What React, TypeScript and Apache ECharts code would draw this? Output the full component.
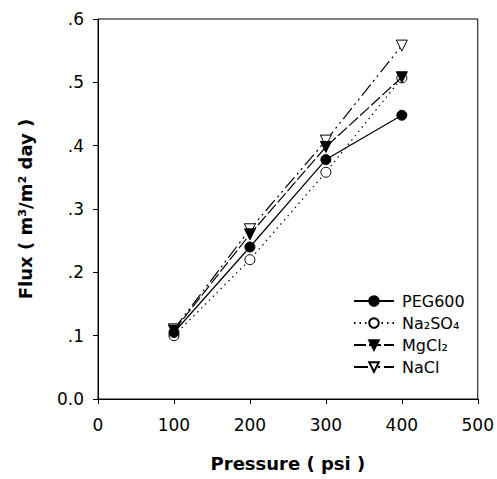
import React, { useEffect, useRef } from "react";
import * as echarts from "echarts";

const pressures = [100, 200, 300, 400];
const seriesNames = ["PEG600", "Na₂SO₄", "MgCl₂", "NaCl"];
const peg600 = [0.105, 0.24, 0.378, 0.448];
const na2so4 = [0.1, 0.22, 0.358, 0.507];
const mgcl2 = [0.108, 0.26, 0.398, 0.508];
const nacl = [0.11, 0.268, 0.408, 0.558];
const xTitle = "Pressure ( psi )";
const yTitle = "Flux ( m³/m² day )";

const FONT = "'DejaVu Sans', 'Liberation Sans', Arial, sans-serif";

function pairs(vals: number[]) {
  return pressures.map((p, i) => [p, vals[i]]);
}

export default function App() {
  const ref = useRef<HTMLDivElement>(null);
  useEffect(() => {
    if (!ref.current) return;
    const chart = echarts.init(ref.current, undefined, { renderer: "svg" });
    const mk = (
      name: string,
      vals: number[],
      symbol: string,
      rotate: number,
      dash: any,
      filled: boolean,
      z: number
    ) => ({
      name,
      type: "line",
      data: pairs(vals),
      symbol,
      showSymbol: true,
      symbolSize: rotate ? 11 : 10,
      symbolRotate: rotate,
      z,
      lineStyle: { color: "#000", width: 1.2, type: dash },
      itemStyle: {
        color: filled ? "#000" : "#fff",
        borderColor: "#000",
        borderWidth: 1,
      },
      emphasis: { disabled: true },
    });
    chart.setOption({
      animation: false,
      backgroundColor: "#fff",
      grid: {
        left: 98,
        right: 17,
        top: 19,
        bottom: 80,
        show: true,
        borderColor: "#000",
        borderWidth: 1,
        backgroundColor: "transparent",
      },
      legend: {
        data: seriesNames,
        orient: "vertical",
        left: 353,
        top: 293,
        padding: 0,
        itemWidth: 40,
        itemHeight: 12,
        itemGap: 6,
        textStyle: {
          fontFamily: FONT,
          fontSize: 16,
          color: "#000",
          lineHeight: 16,
          padding: [0, 0, 0, 3],
        },
      },
      xAxis: {
        type: "value",
        min: 0,
        max: 500,
        interval: 100,
        name: xTitle,
        nameLocation: "middle",
        nameGap: 55,
        nameTextStyle: {
          fontFamily: FONT,
          fontSize: 18,
          fontWeight: "bold",
          color: "#000",
        },
        axisLine: { show: true, lineStyle: { color: "#000", width: 1 } },
        axisTick: { show: true, inside: false, length: 5, lineStyle: { color: "#000" } },
        axisLabel: { fontFamily: FONT, fontSize: 17, color: "#000", margin: 17 },
        splitLine: { show: false },
      },
      yAxis: {
        type: "value",
        min: 0,
        max: 0.6,
        interval: 0.1,
        name: yTitle,
        nameLocation: "middle",
        nameGap: 64,
        nameTextStyle: {
          fontFamily: FONT,
          fontSize: 18,
          fontWeight: "bold",
          color: "#000",
        },
        axisLine: { show: true, lineStyle: { color: "#000", width: 1 } },
        axisTick: { show: true, inside: false, length: 5, lineStyle: { color: "#000" } },
        axisLabel: {
          fontFamily: FONT,
          fontSize: 17,
          color: "#000",
          margin: 14,
          formatter: (v: number) => (v === 0 ? "0.0" : "." + Math.round(v * 10)),
        },
        splitLine: { show: false },
      },
      series: [
        mk(seriesNames[1], na2so4, "circle", 0, [1.5, 4], false, 2),
        mk(seriesNames[3], nacl, "triangle", 180, [14, 4, 2, 4, 2, 4], false, 3),
        mk(seriesNames[0], peg600, "circle", 0, "solid", true, 4),
        mk(seriesNames[2], mgcl2, "triangle", 180, [12, 3], true, 5),
      ],
    });
    return () => chart.dispose();
  }, []);
  return (
    <div
      ref={ref}
      style={{ position: "fixed", left: 0, top: 0, width: 497, height: 479 }}
    />
  );
}
